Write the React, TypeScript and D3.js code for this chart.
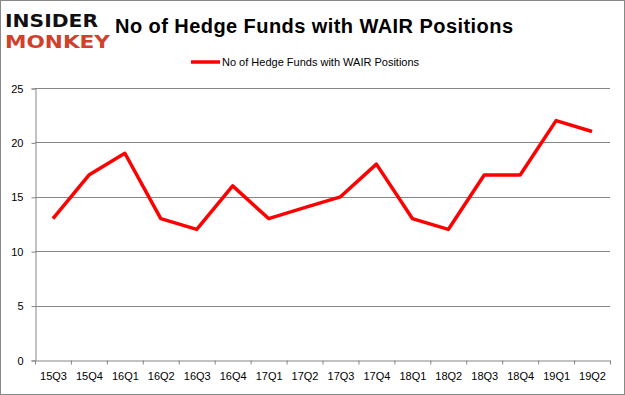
import React, { useEffect, useRef } from 'react'
import * as d3 from 'd3'

const quarters = ['15Q3', '15Q4', '16Q1', '16Q2', '16Q3', '16Q4', '17Q1', '17Q2', '17Q3', '17Q4', '18Q1', '18Q2', '18Q3', '18Q4', '19Q1', '19Q2']
const hedgeFunds = [13, 17, 19, 13, 12, 16, 13, 14, 15, 18, 13, 12, 17, 17, 22, 21]
const yTicks = [0, 5, 10, 15, 20, 25]
const seriesName = 'No of Hedge Funds with WAIR Positions'
const title = 'No of Hedge Funds with WAIR Positions'

const W = 625
const H = 395
const margin = { top: 88, left: 35, bottom: 35, right: 15 }
const font = '"Liberation Sans", Arial, sans-serif'

export default function App() {
    const ref = useRef<SVGSVGElement>(null)

    useEffect(() => {
        const svg = d3.select(ref.current)
        svg.selectAll('*').remove()

        const x = d3.scaleBand<string>()
            .domain(quarters)
            .range([margin.left, W - margin.right])
        const y = d3.scaleLinear()
            .domain([0, 25])
            .range([H - margin.bottom, margin.top])

        svg.append('rect')
            .attr('x', 0.5).attr('y', 0.5)
            .attr('width', W - 1).attr('height', H - 1)
            .attr('fill', '#fff').attr('stroke', '#888')

        // gridlines
        svg.append('g')
            .selectAll('line')
            .data(yTicks.filter(t => t > 0))
            .join('line')
            .attr('x1', margin.left).attr('x2', W - margin.right)
            .attr('y1', d => Math.round(y(d)) + 0.5).attr('y2', d => Math.round(y(d)) + 0.5)
            .attr('stroke', '#868686')

        // y axis
        const yAxis = svg.append('g')
            .attr('transform', `translate(${margin.left + 0.5},0.5)`)
            .call(d3.axisLeft(y).tickValues(yTicks).tickSize(4).tickPadding(8))
        yAxis.select('.domain').attr('stroke', '#868686')
        yAxis.selectAll('.tick line').attr('stroke', '#868686')
        yAxis.selectAll('.tick text').attr('font-family', font).attr('font-size', 11).attr('fill', '#000')

        // x axis
        const xAxis = svg.append('g')
            .attr('transform', `translate(0.5,${y(0) + 0.5})`)
            .call(d3.axisBottom(x).tickSize(0).tickPadding(12))
        xAxis.select('.domain').attr('stroke', '#868686')
        xAxis.selectAll('.tick text').attr('font-family', font).attr('font-size', 11).attr('fill', '#000')
        xAxis.selectAll('line.sep')
            .data(d3.range(quarters.length + 1))
            .join('line')
            .attr('class', 'sep')
            .attr('x1', i => margin.left + i * x.step()).attr('x2', i => margin.left + i * x.step())
            .attr('y1', 0).attr('y2', 4)
            .attr('stroke', '#868686')

        const line = d3.line<number>()
            .x((d, i) => x(quarters[i])! + x.bandwidth() / 2)
            .y(d => y(d))

        svg.append('path')
            .datum(hedgeFunds)
            .attr('d', line)
            .attr('fill', 'none')
            .attr('stroke', '#ff0000')
            .attr('stroke-width', 3.5)
            .attr('stroke-linejoin', 'round')

        // legend
        svg.append('line')
            .attr('x1', 191).attr('x2', 220).attr('y1', 62).attr('y2', 62)
            .attr('stroke', '#ff0000').attr('stroke-width', 3.5)
        svg.append('text')
            .attr('x', 222).attr('y', 66)
            .attr('font-family', font).attr('font-size', 11)
            .text(seriesName)

        // title
        svg.append('text')
            .attr('x', 115).attr('y', 33)
            .attr('font-family', font).attr('font-size', 20).attr('font-weight', 'bold')
            .attr('textLength', 398)
            .text(title)

        // logo
        svg.append('text')
            .attr('x', 5).attr('y', 27)
            .attr('font-family', '"DejaVu Sans", sans-serif').attr('font-size', 17).attr('font-weight', 'bold')
            .attr('textLength', 93).attr('lengthAdjust', 'spacingAndGlyphs')
            .attr('fill', '#111')
            .text('INSIDER')
        svg.append('text')
            .attr('x', 5).attr('y', 48)
            .attr('font-family', '"DejaVu Sans", sans-serif').attr('font-size', 17).attr('font-weight', 'bold')
            .attr('textLength', 105).attr('lengthAdjust', 'spacingAndGlyphs')
            .attr('fill', '#d0402a')
            .text('MONKEY')
    }, [])

    return (
        <svg ref={ref} width={W} height={H} style={{ position: 'absolute', left: 0, top: 0 }} />
    )
}
